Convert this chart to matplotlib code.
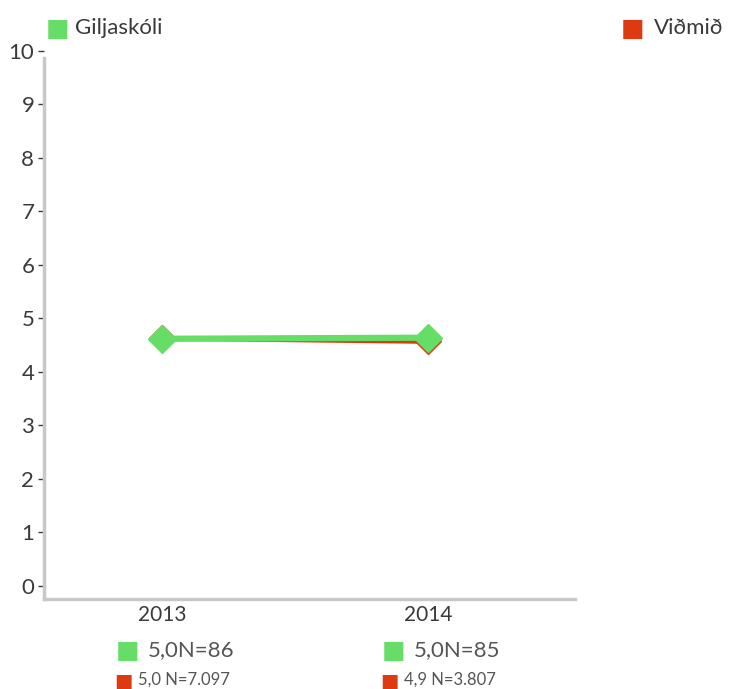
import numpy as np
import matplotlib as mpl
mpl.use('Agg')
import matplotlib.pyplot as plt

# Gögn
ar = ['2013', '2014']
giljaskoli = [4.62, 4.64]
vidmid = [4.63, 4.57]
gilja_merki = ['5,0N=86', '5,0N=85']
vidmid_merki = ['5,0 N=7.097', '4,9 N=3.807']
y_ticks = list(range(0, 11))

graenn = '#66dd66'
raudur = '#dd3a11'
texti = '#3a3a3a'

plt.rcParams['font.family'] = ['Lato', 'DejaVu Sans']

fig = plt.figure(figsize=(7.41, 6.89), dpi=100)
ax = fig.add_axes([44/741, 1 - 599/689, (575 - 44)/741, (599 - 45)/689])

x = np.arange(len(ar))
ax.plot(x, vidmid, color=raudur, lw=3.5, marker='D', markersize=13,
        markeredgecolor=raudur, markerfacecolor=raudur, zorder=2)
ax.plot(x, giljaskoli, color=graenn, lw=4.5, marker='D', markersize=14,
        markeredgecolor=graenn, markerfacecolor=graenn, zorder=3)

ax.set_xlim(-0.444, 1.553)
ax.set_ylim(-0.243, 10.11)
ax.set_yticks(y_ticks)
ax.set_yticklabels([str(t) for t in y_ticks], fontsize=16, color=texti)
ax.tick_params(axis='y', length=4, width=1, color=texti, pad=3)
ax.set_xticks(x)
ax.set_xticklabels(ar, fontsize=15, color=texti)
ax.tick_params(axis='x', length=0, pad=4)

for s in ['top', 'right']:
    ax.spines[s].set_visible(False)
for s in ['left', 'bottom']:
    ax.spines[s].set_color('#c8c8c8')
    ax.spines[s].set_linewidth(2.5)
ax.spines['left'].set_bounds(-0.243, 9.87)

sq = dict(ha='center', va='center', family=['DejaVu Sans'], fontweight='normal')

# Merki undir x-ás
for i in range(len(ar)):
    xp = ax.transData.transform((x[i], 0))[0] / 741
    fig.text(xp - 0.046, 1 - 651/689, '■', color=graenn, fontsize=18, **sq)
    fig.text(xp - 0.019, 1 - 650/689, gilja_merki[i], color='#555555',
             fontsize=16, ha='left', va='center')
    fig.text(xp - 0.052, 1 - 681/689, '■', color=raudur, fontsize=14, **sq)
    fig.text(xp - 0.032, 1 - 680/689, vidmid_merki[i], color='#555555',
             fontsize=12, ha='left', va='center')

# Skýringar efst
fig.text(58/741, 1 - 29/689, '■', color=graenn, fontsize=18, **sq)
fig.text(75/741, 1 - 28/689, 'Giljaskóli', color=texti, fontsize=16,
         ha='left', va='center')
fig.text(633/741, 1 - 29/689, '■', color=raudur, fontsize=18, **sq)
fig.text(654/741, 1 - 28/689, 'Viðmið', color=texti, fontsize=16,
         ha='left', va='center')

plt.savefig('out.png', dpi=100)
plt.close()
